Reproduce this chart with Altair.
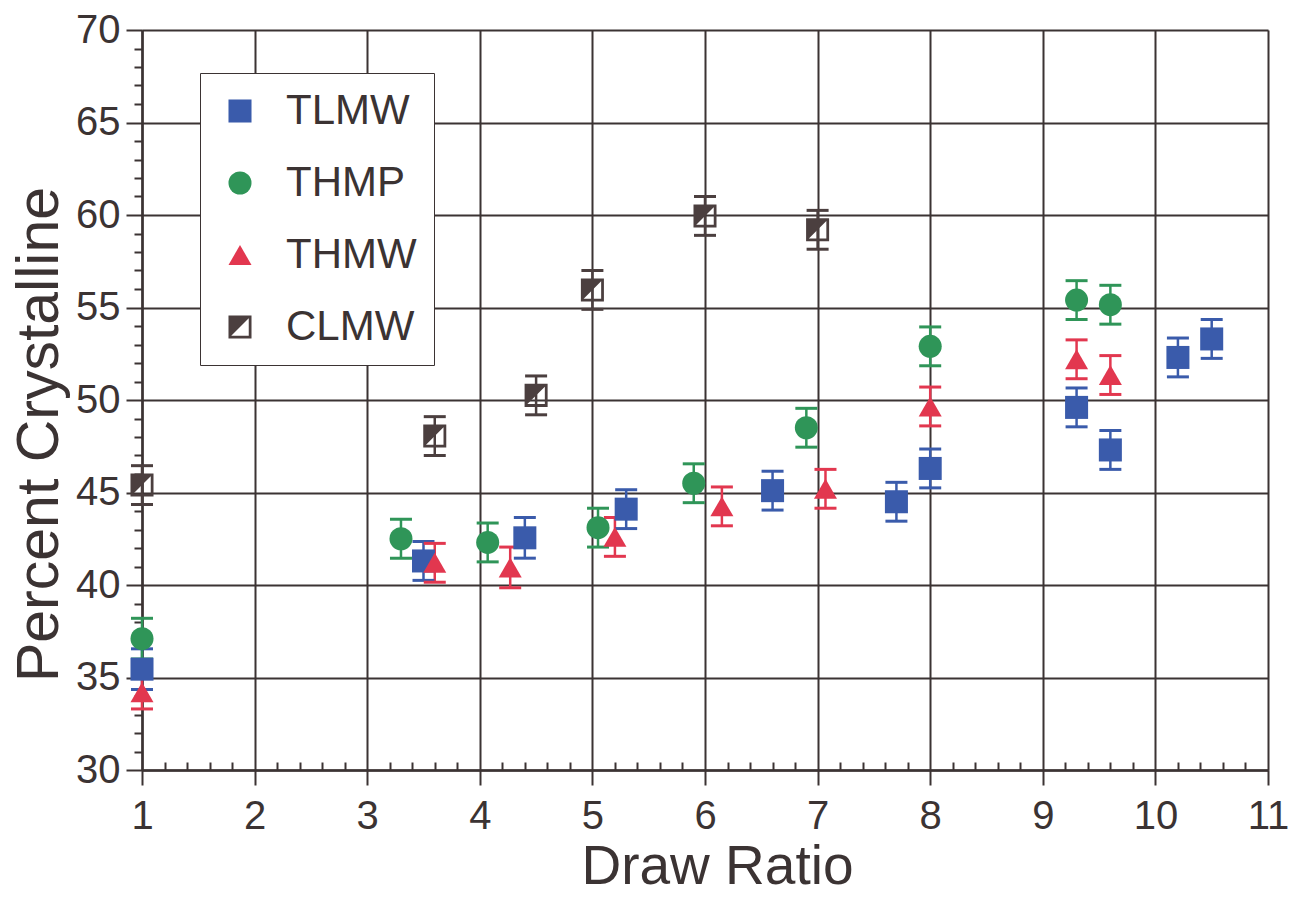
import altair as alt
import pandas as pd

# ---- data ----
series_names = ["TLMW", "THMP", "THMW", "CLMW"]
series_colors = ["#3a5bab", "#2f9558", "#e2374f", "#4b3f3f"]
# square frame with the upper-left half filled (custom symbol for CLMW)
CLMW_PATH = "M-1,-1H1V1H-1Z M-0.76,-0.76V0.76H0.76V-0.76Z M-0.76,-0.76H0.76L-0.76,0.76Z"
series_shapes = ["square", "circle", "triangle-up", CLMW_PATH]

tlmw_x = [1.0, 3.5, 4.4, 5.3, 6.6, 7.7, 8.0, 9.3, 9.6, 10.2, 10.5]
tlmw_y = [35.45, 41.3, 42.55, 44.1, 45.1, 44.5, 46.3, 49.6, 47.3, 52.3, 53.3]
tlmw_e = [1.1, 1.05, 1.1, 1.05, 1.05, 1.05, 1.05, 1.05, 1.05, 1.05, 1.05]

thmp_x = [1.0, 3.3, 4.07, 5.05, 5.9, 6.9, 8.0, 9.3, 9.6]
thmp_y = [37.1, 42.5, 42.3, 43.1, 45.5, 48.5, 52.9, 55.4, 55.15]
thmp_e = [1.1, 1.05, 1.05, 1.05, 1.05, 1.05, 1.05, 1.05, 1.05]

thmw_x = [1.0, 3.6, 4.27, 5.2, 6.15, 7.07, 8.0, 9.3, 9.6]
thmw_y = [34.2, 41.2, 40.95, 42.6, 44.25, 45.2, 49.65, 52.2, 51.35]
thmw_e = [0.9, 1.05, 1.1, 1.05, 1.05, 1.05, 1.05, 1.05, 1.05]

clmw_x = [1.0, 3.6, 4.5, 5.0, 6.0, 7.0]
clmw_y = [45.4, 48.05, 50.25, 55.95, 59.95, 59.2]
clmw_e = [1.05, 1.05, 1.05, 1.05, 1.05, 1.05]

x_major = list(range(1, 12))
x_minor = [round(i + f, 1) for i in range(1, 11) for f in (0.2, 0.4, 0.6, 0.8)]
y_major = list(range(30, 71, 5))
y_minor = [v for v in range(30, 71) if v % 5 != 0]

rows = []
for name, xs, ys, es in [
    ("TLMW", tlmw_x, tlmw_y, tlmw_e),
    ("THMP", thmp_x, thmp_y, thmp_e),
    ("THMW", thmw_x, thmw_y, thmw_e),
    ("CLMW", clmw_x, clmw_y, clmw_e),
]:
    for x, y, e in zip(xs, ys, es):
        rows.append({"series": name, "ratio": x, "pct": y, "lo": y - e, "hi": y + e})
df = pd.DataFrame(rows)

INK = "#3b3333"
FONT = "Liberation Sans"

xscale = alt.Scale(domain=[1, 11], nice=False, zero=False)
yscale = alt.Scale(domain=[30, 70], nice=False, zero=False)
cscale = alt.Scale(domain=series_names, range=series_colors)
sscale = alt.Scale(domain=series_names, range=series_shapes)

leg = alt.Legend(
    title=None, orient="none", legendX=58, legendY=43,
    padding=17, fillColor="white", strokeColor=INK,
    labelFontSize=42, labelFont=FONT, labelColor=INK, labelOffset=25,
    symbolSize=530, symbolStrokeWidth=0, symbolOffset=2, symbolOpacity=1,
    rowPadding=30,
)

base = alt.Chart(df)

points = base.mark_point(filled=True, size=530, opacity=1, strokeWidth=0).encode(
    x=alt.X("ratio:Q", scale=xscale,
            axis=alt.Axis(orient="bottom", values=x_major, tickSize=15, tickWidth=2,
                          tickColor=INK, domainColor=INK, domainWidth=2.5,
                          grid=True, gridColor=INK, gridWidth=2, gridOpacity=1,
                          labelFontSize=40, labelFont=FONT, labelColor=INK,
                          labelPadding=11, labelFlush=False, labelOverlap=False,
                          title="Draw Ratio", titleFontSize=55, titleFont=FONT,
                          titleFontWeight="normal", titleColor=INK, titlePadding=4,
                          titleX=575)),
    y=alt.Y("pct:Q", scale=yscale,
            axis=alt.Axis(orient="left", values=y_major, tickSize=16,
                          tickWidth=2, tickColor=INK, domainColor=INK, domainWidth=2.5,
                          grid=True, gridColor=INK, gridWidth=2, gridOpacity=1,
                          labelFontSize=40, labelFont=FONT, labelColor=INK,
                          labelPadding=6, labelFlush=False, labelOverlap=False,
                          title="Percent Crystalline", titleFontSize=59, titleFont=FONT,
                          titleFontWeight="normal", titleColor=INK, titlePadding=6,
                          titleY=404)),
    color=alt.Color("series:N", scale=cscale, legend=leg),
    shape=alt.Shape("series:N", scale=sscale, legend=leg),
)

rules = base.mark_rule(strokeWidth=2.5, opacity=1).encode(
    x=alt.X("ratio:Q", scale=xscale,
            axis=alt.Axis(orient="bottom", values=x_minor, offset=-8, tickSize=8,
                          tickWidth=2, tickColor=INK, domain=False, labels=False,
                          grid=False, title=None)),
    y=alt.Y("lo:Q", scale=yscale,
            axis=alt.Axis(orient="left", values=y_minor, tickSize=8,
                          tickWidth=2, tickColor=INK, domain=False, labels=False,
                          grid=False, title=None)),
    y2="hi:Q",
    color=alt.Color("series:N", scale=cscale),
)

caps_lo = base.mark_tick(orient="horizontal", size=22, thickness=3, opacity=1).encode(
    x=alt.X("ratio:Q", scale=xscale, axis=None),
    y=alt.Y("lo:Q", scale=yscale, axis=None),
    color=alt.Color("series:N", scale=cscale),
)
caps_hi = base.mark_tick(orient="horizontal", size=22, thickness=3, opacity=1).encode(
    x=alt.X("ratio:Q", scale=xscale, axis=None),
    y=alt.Y("hi:Q", scale=yscale, axis=None),
    color=alt.Color("series:N", scale=cscale),
)

chart = (
    alt.layer(rules, caps_lo, caps_hi, points)
    .resolve_axis(x="independent", y="independent")
    .properties(
        width=1126, height=740,
        autosize=alt.AutoSizeParams(type="none"),
        padding={"left": 134, "top": 22, "right": 20, "bottom": 117},
    )
    .configure_view(stroke=None)
    .configure_legend(strokeWidth=2)
    .configure(font=FONT)
)

chart.save("out.html", embed_options={"renderer": "svg", "actions": False})
